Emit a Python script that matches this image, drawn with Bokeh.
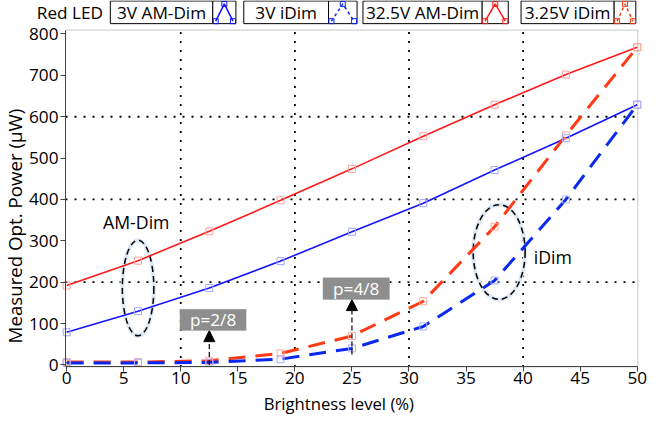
import math
from bokeh.plotting import figure
from bokeh.models import Range1d, FixedTicker, Arrow, NormalHead, BoxAnnotation, Label
from bokeh.core.properties import value
from bokeh.embed import file_html
from bokeh.resources import INLINE

FONT = "Open Sans"

# ---- data ----
brightness = [0, 6.25, 12.5, 18.75, 25, 31.25, 37.5, 43.75, 50]
am_3v = [79, 130, 186, 251, 322, 391, 471, 548, 629]
idim_3v = [5, 5, 6, 14, 40, 93, 204, 400, 629]
am_325v = [192, 252, 323, 398, 474, 553, 629, 702, 768]
idim_325v = [7, 7, 10, 28, 70, 154, 334, 555, 768]

x_ticks = [0, 5, 10, 15, 20, 25, 30, 35, 40, 45, 50]
y_ticks = [0, 100, 200, 300, 400, 500, 600, 700, 800]
x_grid = [10, 20, 30, 40]
y_grid = [200, 400, 600]
series_names = ["3V AM-Dim", "3V iDim", "32.5V AM-Dim", "3.25V iDim"]
x_label = "Brightness level (%)"
y_label = "Measured Opt. Power (µW)"

C_AM3 = "#1414ff"
C_ID3 = "#0a28f0"
C_AM325 = "#ff1a1a"
C_ID325 = "#ff3a14"

# ---- geometry: layout positions given in reference-image pixels ----
CW, CH = 647, 416
S = 0.985               # canvas px per reference px
OX, OY = 3, 5           # reference px shown at canvas origin
KX = 50.15 / 581.0      # data units per reference px (x)
KY = 800.0 / 336.0      # data units per reference px (y)


def X(px):
    return -0.1 + (px - 69) * KX


def Y(py):
    return (375 - py) * KY


def CX(cpx):            # canvas px -> data
    return X(OX + cpx / S)


def CY(cpy):
    return Y(OY + cpy / S)


def fs(n):
    return "%.1fpx" % (n * S)


XMIN, XMAX = CX(0), CX(CW)
YMIN, YMAX = CY(CH), CY(0)
BOX_L, BOX_R, BOX_B, BOX_T = X(69), X(650), Y(377), Y(35)

p = figure(frame_width=CW, frame_height=CH,
           x_range=Range1d(XMIN, XMAX), y_range=Range1d(YMIN, YMAX),
           toolbar_location=None, output_backend="svg", min_border=0)
p.outline_line_color = None
p.grid.visible = False

# axes drawn at the plot box edges
p.xaxis.fixed_location = BOX_B
p.yaxis.fixed_location = BOX_L
p.xaxis.bounds = (BOX_L, BOX_R)
p.yaxis.bounds = (BOX_B, BOX_T)
p.xaxis.ticker = FixedTicker(ticks=x_ticks)
p.yaxis.ticker = FixedTicker(ticks=y_ticks)
for ax in (p.xaxis, p.yaxis):
    ax.axis_line_color = "#444444"
    ax.major_tick_line_color = "#444444"
    ax.major_tick_in = 0
    ax.major_tick_out = 5
    ax.minor_tick_line_color = None
    ax.major_label_text_font = FONT
    ax.major_label_text_font_size = fs(17.5)
    ax.major_label_text_color = "black"
p.xaxis.major_label_standoff = 0
p.yaxis.major_label_standoff = 2

# dotted grid, limited to the plot box
p.segment(x0=x_grid, y0=[BOX_B] * len(x_grid), x1=x_grid, y1=[BOX_T] * len(x_grid),
          line_color="black", line_dash="2 7", line_width=1.8)
p.segment(x0=[BOX_L] * len(y_grid), y0=y_grid, x1=[BOX_R] * len(y_grid), y1=y_grid,
          line_color="black", line_dash="2 7", line_width=1.8)

# plot box border
p.add_layout(BoxAnnotation(left=BOX_L, right=BOX_R, bottom=BOX_B, top=BOX_T,
                           fill_alpha=0, line_color="#444444", line_width=1))

# axis titles
p.text(x=[X(346.5)], y=[CY(414.5)], text=[x_label], text_font=value(FONT),
       text_font_size=fs(17), text_align="center", text_baseline="bottom",
       text_color="black")
p.text(x=[CX(13.5)], y=[Y(234)], text=[y_label], text_font=value(FONT),
       text_font_size=fs(19), text_align="center", text_baseline="middle",
       text_color="black", angle=math.pi / 2)

# ---- legend strip ----
p.text(x=[X(73.5)], y=[Y(17)], text=["Red LED"], text_font=value(FONT),
       text_font_size=fs(17.5), text_align="center", text_baseline="middle",
       text_color="black")
box_left = [114.5, 250, 371, 531.5]
box_div = [218.5, 336, 492, 626]
box_right = [242, 365, 518.5, 648]
colors = [C_AM3, C_ID3, C_AM325, C_ID325]
dashes = ["solid", "3 3", "solid", "3 3"]
bt, bb = Y(5.5), Y(28.5)
p.quad(left=[X(v) for v in box_left], right=[X(v) for v in box_div], top=bt, bottom=bb,
       fill_color="white", line_color="black", line_width=1)
p.quad(left=[X(v) for v in box_div], right=[X(v) for v in box_right], top=bt, bottom=bb,
       fill_color="white", line_color="black", line_width=1)
p.text(x=[X((a + b) / 2) for a, b in zip(box_left, box_div)], y=[Y(17)] * 4, text=series_names,
       text_font=value(FONT), text_font_size=fs(17.5), text_align="center",
       text_baseline="middle", text_color="black")
for d, r, c, ds in zip(box_div, box_right, colors, dashes):
    xs = [X(d + 3), X((d + r) / 2), X(r - 3)]
    ys = [Y(26), Y(8.5), Y(26)]
    p.line(xs, ys, line_color=c, line_width=1.5, line_dash=ds)
    p.scatter(xs, ys, marker="square", size=5, fill_color=None, line_color=c)

# ---- ellipses (annotations) ----
for cx, cy, w, h in [(6.26, 186, 2.76, 231), (37.9, 273, 4.55, 229)]:
    p.ellipse(x=[cx], y=[cy], width=[w], height=[h], fill_color=None,
              line_color="#dde8f4", line_width=4)
    p.ellipse(x=[cx], y=[cy], width=[w], height=[h], fill_color=None,
              line_color="black", line_width=1.5, line_dash="6 4")

# ---- series ----
p.line(brightness, am_325v, line_color=C_AM325, line_width=1.6)
p.line(brightness, am_3v, line_color=C_AM3, line_width=1.6)
p.line(brightness, idim_325v, line_color=C_ID325, line_width=3, line_dash="17 10")
p.line(brightness, idim_3v, line_color=C_ID3, line_width=3, line_dash="17 10")
p.scatter(brightness, am_325v, marker="square", size=7, fill_color=None, line_color="#ff9f9f")
p.scatter(brightness, idim_325v, marker="square", size=7, fill_color=None, line_color="#ffaaa0")
p.scatter(brightness, am_3v, marker="square", size=7, fill_color=None, line_color="#a4a6ff")
p.scatter(brightness, idim_3v, marker="square", size=7, fill_color=None, line_color="#a8b0ff")

# ---- text annotations ----
p.add_layout(Label(x=6.1, y=345, text="AM-Dim", text_font=FONT, text_font_size=fs(18),
                   text_align="center", text_baseline="middle", text_color="black"))
p.add_layout(Label(x=42.6, y=260, text="iDim", text_font=FONT, text_font_size=fs(18),
                   text_align="center", text_baseline="middle", text_color="black"))

# ---- arrows and p boxes ----
for xa, ys, ye in [(12.5, 0, 83), (25, 25, 158)]:
    p.add_layout(Arrow(end=NormalHead(size=11, fill_color="black", line_color="black"),
                       x_start=xa, y_start=ys, x_end=xa, y_end=ye,
                       line_color="black", line_width=1.2, line_dash="5 3"))
for (l, r, b, t, txt) in [(9.93, 15.73, 83, 134.5, "p=2/8"), (22.46, 28.29, 158, 211, "p=4/8")]:
    p.add_layout(BoxAnnotation(left=l, right=r, bottom=b, top=t, fill_color="#8e8e8e",
                               fill_alpha=1, line_color="#8e8e8e"))
    p.add_layout(Label(x=(l + r) / 2, y=(b + t) / 2, text=txt, text_font=FONT,
                       text_font_size=fs(17.5), text_align="center", text_baseline="middle",
                       text_color="white"))

open("out.html", "w").write(file_html(p, INLINE))
